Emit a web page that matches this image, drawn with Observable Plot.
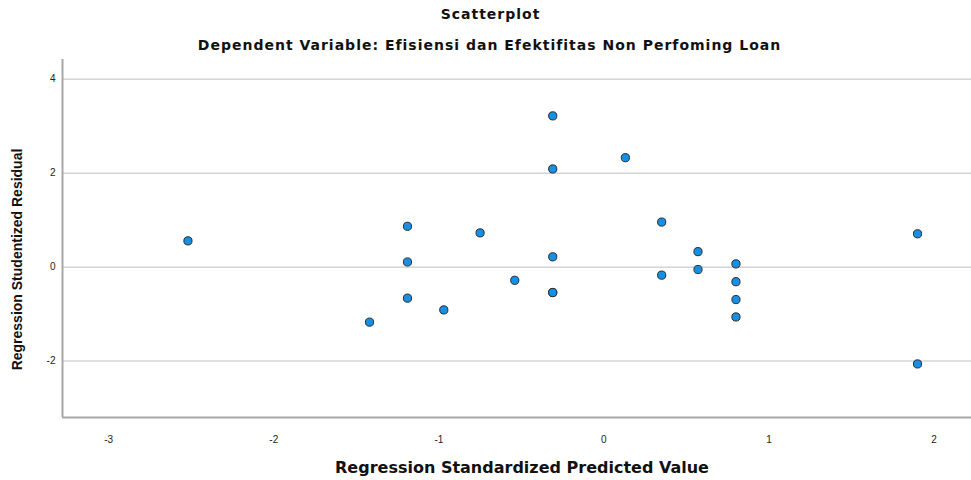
<!DOCTYPE html>
<html>
<head>
<meta charset="utf-8">
<script src="https://cdn.jsdelivr.net/npm/d3@7"></script>
<script src="https://cdn.jsdelivr.net/npm/@observablehq/plot@0.6"></script>
<style>
  body { margin: 0; background: #fff; font-family: "Liberation Sans", Arial, sans-serif; }
  #wrap { width: 971px; }
  #head { position: relative; height: 55px; }
  #t1 { position: absolute; left: 5px; width: 971px; top: 5px; line-height: 18px; text-align: center; font-family: "DejaVu Sans", sans-serif; font-weight: bold; font-size: 14px; letter-spacing: 1px; color: #111; }
  #t2 { position: absolute; left: 4px; width: 971px; top: 36px; line-height: 18px; text-align: center; font-family: "DejaVu Sans", sans-serif; font-weight: bold; font-size: 14px; letter-spacing: 1px; color: #111; }
  svg { display: block; }
</style>
</head>
<body>
<div id="wrap">
  <div id="head">
    <div id="t1">Scatterplot</div>
    <div id="t2">Dependent Variable: Efisiensi dan Efektifitas Non Perfoming Loan</div>
  </div>
  <div id="chart"></div>
</div>
<script>
const predicted = [-2.52, -1.42, -1.19, -1.19, -1.19, -0.97, -0.75, -0.54, -0.31, -0.31, -0.31, -0.31, -0.31, 0.13, 0.35, 0.35, 0.57, 0.57, 0.80, 0.80, 0.80, 0.80, 1.90, 1.90];
const residual  = [0.56, -1.17, 0.87, 0.11, -0.66, -0.91, 0.73, -0.28, 3.22, 2.09, 0.22, -0.54, -0.54, 2.33, 0.96, -0.17, 0.33, -0.05, 0.07, -0.31, -0.69, -1.06, 0.71, -2.06];
const xTicks = [-3, -2, -1, 0, 1, 2];
const yTicks = [-2, 0, 2, 4];
const xDomain = [-3.28, 2.227];
const yDomain = [-3.2, 4.42];
const xLabel = "Regression Standardized Predicted Value";
const yLabel = "Regression Studentized Residual";

const data = predicted.map((p, i) => ({x: p, y: residual[i]}));

const chart = Plot.plot({
  width: 971,
  height: 425,
  marginTop: 4,
  marginBottom: 63,
  marginLeft: 62,
  marginRight: 0,
  style: {fontFamily: "'Liberation Sans', Arial, sans-serif", background: "#fff"},
  x: {domain: xDomain},
  y: {domain: yDomain},
  marks: [
    Plot.gridY(yTicks, {stroke: "#d4d4d4", strokeOpacity: 1, strokeWidth: 1.5}),
    Plot.axisY(yTicks, {tickSize: 0, tickPadding: 7, tickFormat: d => String(d), fontSize: 10, fill: "#222", label: null}),
    Plot.axisX(xTicks, {tickSize: 0, tickPadding: 18, tickFormat: d => String(d), fontSize: 10, fill: "#222", label: null}),
    Plot.ruleX([xDomain[0]], {stroke: "#a8a8a8", strokeWidth: 2}),
    Plot.ruleY([yDomain[0]], {stroke: "#a8a8a8", strokeWidth: 2}),
    Plot.dot(data, {x: "x", y: "y", r: 4.1, fill: "#1590e6", stroke: "#2b2b2b", strokeWidth: 1}),
    Plot.text([xLabel], {frameAnchor: "bottom", dx: 5, dy: 50, lineAnchor: "middle", textAnchor: "middle", fontSize: 16, fontWeight: "bold", fontFamily: "DejaVu Sans", fill: "#111"}),
    Plot.text([yLabel], {frameAnchor: "left", dx: -45, dy: 21, rotate: -90, lineAnchor: "middle", textAnchor: "middle", fontSize: 14, fontWeight: "bold", fontFamily: "Liberation Sans", fill: "#111"})
  ]
});
document.getElementById("chart").appendChild(chart);
</script>
</body>
</html>
